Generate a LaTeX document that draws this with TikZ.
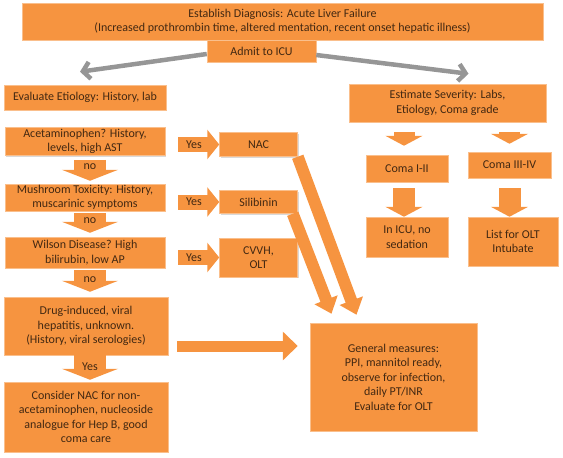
\documentclass[tikz,border=0pt]{standalone}
\usepackage{fontspec}
\setmainfont{Carlito}
\usepackage{tikz}
\usetikzlibrary{arrows.meta, positioning, shadows}
\definecolor{orangebox}{RGB}{246,148,64}
\definecolor{texte}{RGB}{66,40,18}
\definecolor{gris}{RGB}{150,150,150}

\begin{document}
\begin{tikzpicture}[
    x=1pt, y=-1pt,
    boite/.style={rectangle, fill=orangebox, draw=orangebox!60!white, line width=0.5pt,
                  text=texte, align=center, inner sep=1pt,
                  font=\fontsize{12}{14.5}\selectfont,
                  drop shadow={shadow xshift=1.2pt, shadow yshift=-1.2pt, opacity=0.3}},
    oui/.style={-{Triangle[length=12pt, width=29pt]}, line width=15pt, orangebox},
    non/.style={-{Triangle[length=11pt, width=56pt]}, line width=32pt, orangebox},
    petite/.style={-{Triangle[length=10pt, width=37pt]}, line width=21pt, orangebox},
    diagonale/.style={-{Triangle[length=15pt, width=24pt]}, line width=12pt, orangebox},
    grise/.style={-{Straight Barb[length=7pt, width=17pt]}, line width=4.5pt, gris},
    etiq/.style={text=texte, font=\fontsize{12}{14}\selectfont}
  ]
    \useasboundingbox (0,0) rectangle (563,458);

    % Noeuds du haut
    \node[boite, minimum width=521pt, minimum height=37pt] (diag) at (282.5,21.5)
      {Establish Diagnosis: Acute Liver Failure\\
       (Increased prothrombin time, altered mentation, recent onset hepatic illness)};
    \node[boite, minimum width=109pt, minimum height=22pt] (icu) at (261.5,51) {Admit to ICU};
    \node[boite, minimum width=162pt, minimum height=25pt] (etio) at (85,97.5)
      {Evaluate Etiology: History, lab};
    \node[boite, minimum width=197pt, minimum height=38pt] (sev) at (447.5,103)
      {Estimate Severity: Labs,\\ Etiology, Coma grade};

    % Colonne de gauche
    \node[boite, minimum width=160pt, minimum height=28pt] (ace) at (85,141.5)
      {Acetaminophen? History,\\ levels, high AST};
    \node[boite, minimum width=160pt, minimum height=27pt] (mush) at (85,197.5)
      {Mushroom Toxicity: History,\\ muscarinic symptoms};
    \node[boite, minimum width=160pt, minimum height=31pt] (wils) at (85,252.5)
      {Wilson Disease? High\\ bilirubin, low AP};
    \node[boite, minimum width=164pt, minimum height=58pt] (drug) at (86,326)
      {Drug-induced, viral\\ hepatitis, unknown.\\ (History, viral serologies)};
    \node[boite, minimum width=164pt, minimum height=70pt] (cons) at (86,417)
      {Consider NAC for non-\\ acetaminophen, nucleoside\\ analogue for Hep B, good\\ coma care};

    % Traitements
    \node[boite, minimum width=78pt, minimum height=24pt] (nac) at (258.5,144.5) {NAC};
    \node[boite, minimum width=78pt, minimum height=23pt] (sili) at (258.5,202) {Silibinin};
    \node[boite, minimum width=78pt, minimum height=39pt] (cvvh) at (258.5,257.5) {CVVH,\\ OLT};
    \node[boite, minimum width=167pt, minimum height=108pt] (gen) at (393.5,377)
      {General measures:\\ PPI, mannitol ready,\\ observe for infection,\\ daily PT/INR\\ Evaluate for OLT};

    % Colonne de droite
    \node[boite, minimum width=82pt, minimum height=27pt] (comaA) at (407,168.5) {Coma I-II};
    \node[boite, minimum width=83pt, minimum height=26pt] (comaB) at (509.5,165) {Coma III-IV};
    \node[boite, minimum width=82pt, minimum height=40pt] (icuno) at (407,237) {In ICU, no\\ sedation};
    \node[boite, minimum width=90pt, minimum height=49pt] (olt) at (513,241.5) {List for OLT\\ Intubate};

    % Fleches grises
    \draw[grise] ([yshift=-3pt]icu.west) -- ([xshift=-5pt, yshift=13pt]etio.north);
    \draw[grise] ([yshift=-4pt]icu.east) -- ([xshift=21pt, yshift=10pt]sev.north);

    % Yes
    \draw[oui, shorten <=13pt] (ace.east |- nac) -- node[etiq, pos=0.53] {Yes} (nac.west);
    \draw[oui, shorten <=13pt] (mush.east |- sili) -- node[etiq, pos=0.53] {Yes} (sili.west);
    \draw[oui, shorten <=13pt] (wils.east |- cvvh) -- node[etiq, pos=0.53] {Yes} (cvvh.west);

    % no
    \draw[non, shorten <=4pt, shorten >=3pt] ([xshift=5pt]ace.south) --
      node[etiq, pos=0.4] {no} ([xshift=5pt]mush.north);
    \draw[non, shorten <=2pt, shorten >=4pt] ([xshift=5pt]mush.south) --
      node[etiq, pos=0.35] {no} ([xshift=5pt]wils.north);
    \draw[non, shorten <=2pt, shorten >=5pt] ([xshift=5pt]wils.south) --
      node[etiq, pos=0.4] {no} ([xshift=4pt]drug.north);
    \draw[non, shorten <=0pt, shorten >=2pt] ([xshift=4pt]drug.south) --
      node[etiq, pos=0.45] {Yes} ([xshift=4pt]cons.north);

    % vers les mesures generales
    \draw[oui, line width=11pt, {-Triangle[length=15pt, width=28pt]}]
      ([xshift=9pt, yshift=-20pt]drug.east) -- ([xshift=-12pt, yshift=31pt]gen.west);
    \draw[diagonale] (nac.south east) -- ([xshift=-37pt, yshift=8pt]gen.north);
    \draw[diagonale] ([xshift=-5pt]sili.south east) -- ([xshift=-62pt, yshift=9pt]gen.north);

    % Severite
    \draw[petite, shorten <=10pt, shorten >=9pt] ([xshift=-3pt]sev.south -| comaA) -- ([xshift=-3pt]comaA.north);
    \draw[petite, shorten <=10pt, shorten >=8pt] (sev.south -| comaB) -- (comaB.north);
    \draw[petite, line width=22pt, shorten <=6pt] ([xshift=-3pt]comaA.south) -- ([xshift=-3pt]icuno.north);
    \draw[petite, line width=22pt, shorten <=10pt] (comaB.south) -- (comaB.south |- olt.north);
  \end{tikzpicture}
\end{document}
